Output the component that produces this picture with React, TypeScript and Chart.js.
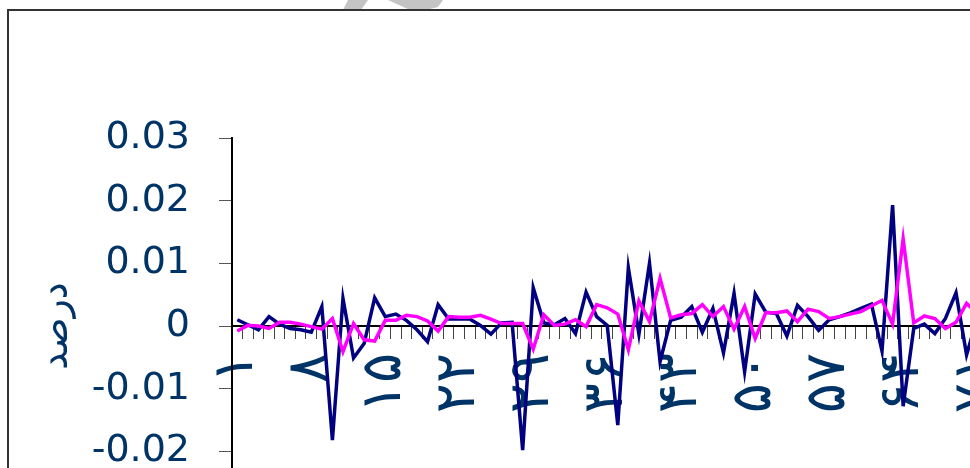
import React, { useEffect, useRef } from "react";
import { Chart, registerables } from "chart.js";

Chart.register(...registerables);

// Category labels (Persian numerals 1..72); every 7th is shown on the axis
const categories = [
  "۱", "۲", "۳", "۴", "۵", "۶", "۷", "۸", "۹", "۱۰",
  "۱۱", "۱۲", "۱۳", "۱۴", "۱۵", "۱۶", "۱۷", "۱۸", "۱۹", "۲۰",
  "۲۱", "۲۲", "۲۳", "۲۴", "۲۵", "۲۶", "۲۷", "۲۸", "۲۹", "۳۰",
  "۳۱", "۳۲", "۳۳", "۳۴", "۳۵", "۳۶", "۳۷", "۳۸", "۳۹", "۴۰",
  "۴۱", "۴۲", "۴۳", "۴۴", "۴۵", "۴۶", "۴۷", "۴۸", "۴۹", "۵۰",
  "۵۱", "۵۲", "۵۳", "۵۴", "۵۵", "۵۶", "۵۷", "۵۸", "۵۹", "۶۰",
  "۶۱", "۶۲", "۶۳", "۶۴", "۶۵", "۶۶", "۶۷", "۶۸", "۶۹", "۷۰",
  "۷۱", "۷۲",
];
const labelEvery = 7;

const seriesNavy = [
  0.0010, 0.0002, -0.0006, 0.0015, 0.0003, -0.0004, -0.0006, -0.0010, 0.0031, -0.0182,
  0.0044, -0.0051, -0.0028, 0.0045, 0.0015, 0.0019, 0.0009, -0.0006, -0.0025, 0.0034,
  0.0011, 0.0011, 0.0011, 0.0001, -0.0013, 0.0005, 0.0006, -0.0198, 0.0061, 0.0005,
  0.0002, 0.0012, -0.0012, 0.0054, 0.0015, 0.0001, -0.0158, 0.0093, -0.0013, 0.0100,
  -0.0057, 0.0009, 0.0014, 0.0031, -0.0010, 0.0028, -0.0043, 0.0052, -0.0073, 0.0051,
  0.0022, 0.0020, -0.0016, 0.0033, 0.0015, -0.0007, 0.0010, 0.0015, 0.0021, 0.0028,
  0.0035, -0.0040, 0.0193, -0.0128, -0.0004, 0.0003, -0.0012, 0.0012, 0.0053, -0.0046,
  0.0012, 0.0008,
];

const seriesMagenta = [
  -0.0008, 0.0001, 0.0000, -0.0004, 0.0006, 0.0006, 0.0003, -0.0001, -0.0005, 0.0012,
  -0.0041, 0.0004, -0.0022, -0.0024, 0.0009, 0.0009, 0.0017, 0.0015, 0.0008, -0.0008,
  0.0015, 0.0014, 0.0014, 0.0017, 0.0011, 0.0004, 0.0004, 0.0004, -0.0037, 0.0018,
  0.0001, 0.0003, 0.0010, -0.0001, 0.0034, 0.0029, 0.0019, -0.0038, 0.0040, 0.0007,
  0.0076, 0.0013, 0.0018, 0.0020, 0.0034, 0.0015, 0.0031, -0.0005, 0.0031, -0.0020,
  0.0021, 0.0021, 0.0024, 0.0007, 0.0027, 0.0023, 0.0012, 0.0015, 0.0019, 0.0023,
  0.0032, 0.0041, 0.0003, 0.0139, 0.0005, 0.0016, 0.0012, -0.0004, 0.0006, 0.0036,
  0.0020, 0.0010,
];

const yMin = -0.03;
const yMax = 0.03;
const yStep = 0.01;
const yTitle = "درصد";

const TEXT = "#003366";
const FONT = "'DejaVu Sans', 'Liberation Sans', Arial, sans-serif";

export default function App() {
  const ref = useRef<HTMLCanvasElement | null>(null);

  useEffect(() => {
    if (!ref.current) return;
    const chart = new Chart(ref.current, {
      type: "line",
      data: {
        labels: categories,
        datasets: [
          {
            label: "navy",
            data: seriesNavy,
            borderColor: "#000080",
            backgroundColor: "#000080",
            borderWidth: 3.5,
            pointRadius: 0,
            tension: 0,
            fill: false,
            order: 2,
          },
          {
            label: "magenta",
            data: seriesMagenta,
            borderColor: "#FF00FF",
            backgroundColor: "#FF00FF",
            borderWidth: 3.5,
            pointRadius: 0,
            tension: 0,
            fill: false,
            order: 1,
          },
        ],
      },
      options: {
        responsive: false,
        animation: false,
        devicePixelRatio: 1,
        layout: { padding: { left: 0, top: 138, right: 100, bottom: 86 } },
        plugins: { legend: { display: false }, tooltip: { enabled: false } },
        scales: {
          x: {
            type: "category",
            position: { y: 0 } as any,
            offset: true,
            grid: {
              display: true,
              drawOnChartArea: false,
              drawTicks: true,
              tickLength: 12,
              color: "#444",
              lineWidth: 1,
              offset: true,
            },
            border: { display: true, color: "#000", width: 2 },
            ticks: {
              autoSkip: false,
              minRotation: 90,
              maxRotation: 90,
              padding: 15,
              color: TEXT,
              font: { family: FONT, size: 56 },
              callback: (_v: any, i: number) => (i % labelEvery === 0 ? categories[i] : ""),
            },
          },
          y: {
            min: yMin,
            max: yMax,
            position: "left",
            grid: { drawOnChartArea: false, drawTicks: true, tickLength: 13, color: "#555", lineWidth: 1 },
            border: { display: true, color: "#000", width: 2 },
            ticks: {
              stepSize: yStep,
              padding: 29,
              color: TEXT,
              font: { family: FONT, size: 38 },
              callback: (v: any) => String(Math.round(Number(v) * 100) / 100),
            },
            title: {
              display: true,
              text: yTitle,
              color: TEXT,
              font: { family: FONT, size: 38 },
              padding: { top: 34, bottom: 0 },
            },
            afterFit: (s: any) => {
              s.width = 232;
            },
          },
        },
      },
    });
    return () => chart.destroy();
  }, []);

  return (
    <div
      style={{
        position: "fixed",
        left: 0,
        top: 0,
        width: 970,
        height: 468,
        overflow: "hidden",
        background: "#fff",
      }}
    >
      <svg
        width={970}
        height={12}
        style={{ position: "absolute", left: 0, top: 0 }}
      >
        <polygon points="348,0 368,0 361,10 343,10" fill="#c4c4c4" />
        <polygon points="388,0 443,0 438,7 426,10 410,10" fill="#c4c4c4" />
      </svg>
      <div
        style={{
          position: "absolute",
          left: 7,
          top: 9,
          width: 1400,
          height: 900,
          border: "2px solid #333",
          background: "#fff",
          boxSizing: "border-box",
        }}
      />
      <canvas
        ref={ref}
        width={1093}
        height={600}
        style={{ position: "absolute", left: 0, top: 0, width: 1093, height: 600 }}
      />
    </div>
  );
}
